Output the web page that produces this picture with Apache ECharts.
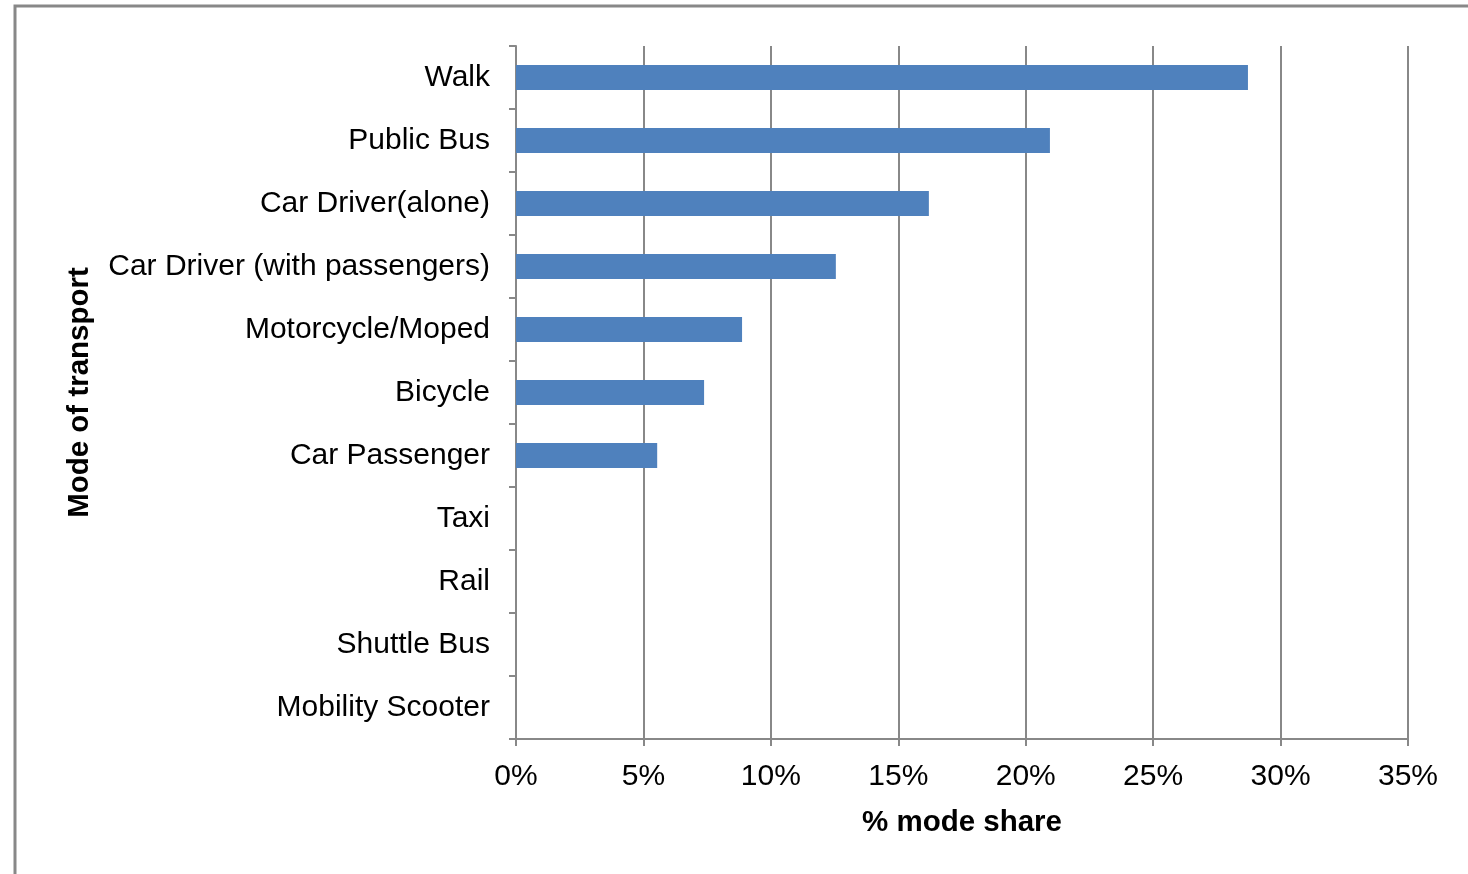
<!DOCTYPE html>
<html>
<head>
<meta charset="utf-8">
<script src="https://cdn.jsdelivr.net/npm/echarts@6/dist/echarts.min.js"></script>
<style>
html,body{margin:0;padding:0;background:#fff;}
#chart{width:1468px;height:874px;}
</style>
</head>
<body>
<div id="chart"></div>
<script>
const categories = ["Walk","Public Bus","Car Driver(alone)","Car Driver (with passengers)","Motorcycle/Moped","Bicycle","Car Passenger","Taxi","Rail","Shuttle Bus","Mobility Scooter"];
const modeShare = [28.72, 20.95, 16.2, 12.55, 8.87, 7.38, 5.54, 0, 0, 0, 0];
const xAxisTitle = "% mode share";
const yAxisTitle = "Mode of transport";

const chart = echarts.init(document.getElementById('chart'), null, {renderer:'canvas'});
const axisColor = '#888888';
const font = 'Liberation Sans, Arial, sans-serif';
chart.setOption({
  animation:false,
  backgroundColor:'#ffffff',
  graphic:[{
    type:'polyline',
    shape:{points:[[15,880],[15,6],[1480,6]]},
    style:{stroke:'#888888',lineWidth:3,fill:null},
    silent:true
  }],
  grid:{left:516,right:60,top:46,bottom:135,containLabel:false},
  xAxis:{
    type:'value',min:0,max:35,interval:5,
    name:xAxisTitle,nameLocation:'middle',nameGap:69,
    nameTextStyle:{fontFamily:font,fontSize:29.5,fontWeight:'bold',color:'#000'},
    axisLine:{show:true,lineStyle:{color:axisColor,width:2}},
    axisTick:{show:true,length:7,lineStyle:{color:axisColor,width:2}},
    axisLabel:{formatter:'{value}%',fontFamily:font,fontSize:30,color:'#000',margin:23},
    splitLine:{show:true,lineStyle:{color:axisColor,width:2}}
  },
  yAxis:{
    type:'category',data:categories,inverse:true,
    name:yAxisTitle,nameLocation:'middle',nameGap:421,nameRotate:90,
    nameTextStyle:{fontFamily:font,fontSize:29.5,fontWeight:'bold',color:'#000'},
    axisLine:{show:true,lineStyle:{color:axisColor,width:2}},
    axisTick:{show:true,length:7,alignWithLabel:false,lineStyle:{color:axisColor,width:2}},
    axisLabel:{fontFamily:font,fontSize:30,color:'#000',margin:26,padding:[4,0,0,0]},
    splitLine:{show:false}
  },
  series:[{
    type:'bar',data:modeShare,barWidth:25,
    itemStyle:{color:'#4F81BD'}
  }]
});
</script>
</body>
</html>
